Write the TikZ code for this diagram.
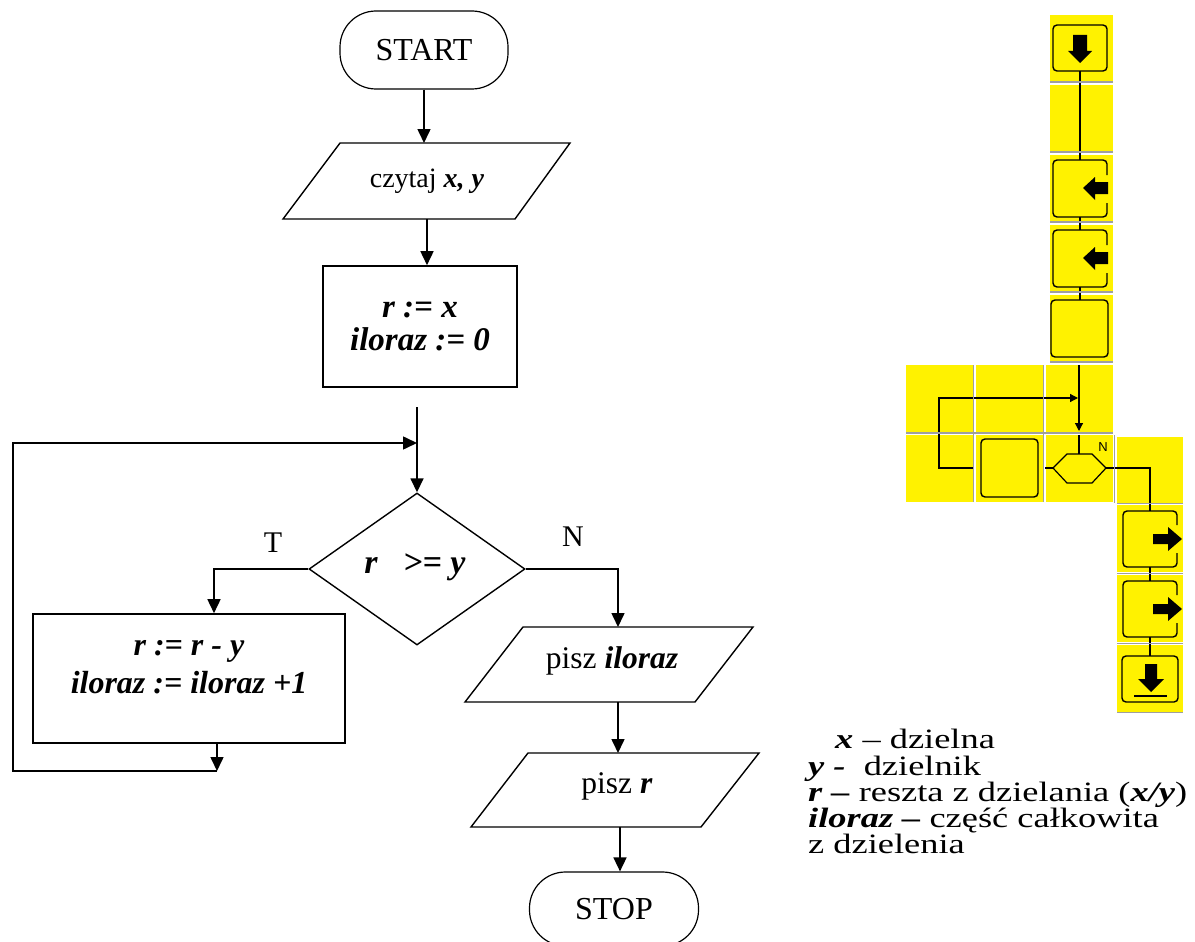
\documentclass[tikz,border=0pt]{standalone}
\usepackage{fontspec}
\setmainfont{Liberation Serif}
\newfontfamily\legendfont[FakeStretch=1.3]{Liberation Serif}
\newfontfamily\cellfont{Liberation Sans}
\usetikzlibrary{arrows.meta,shapes.geometric}
\newcommand\bfit[1]{\textbf{\textit{#1}}}
\newcommand\fsz[1]{\fontsize{#1}{#1}\selectfont}

\tikzset{
  flow/.style={line width=1.6pt},
  arr/.style={flow, -{Triangle[length=14pt,width=13pt]}},
  terminal/.style={draw, line width=1.2pt, rectangle, rounded corners=36pt,
    minimum width=168pt, minimum height=78pt, inner sep=0pt, font=\fsz{32}},
  procbox/.style={draw, flow, rectangle, inner sep=0pt, align=center},
  decision/.style={draw, line width=1.4pt, diamond, inner sep=0pt,
    minimum width=216pt, minimum height=152pt},
  io/.style={draw, line width=1.4pt, line join=miter},
  lbl/.style={font=\fsz{30}, inner sep=0pt},
  cell/.style={fill=yellow},
  sep/.style={draw=gray!75, line width=1.4pt},
  icon/.style={line width=1.4pt, rounded corners=4pt},
  wire/.style={line width=1.2pt},
  smallarr/.style={wire, -{Triangle[length=8pt,width=8pt]}},
  legend/.style={anchor=base west, inner sep=0pt, font=\legendfont\fsz{28}},
}

\begin{document}
\begin{tikzpicture}[x=1pt, y=-1pt]
\useasboundingbox (0,0) rectangle (1195,942);
\clip (0,0) rectangle (1195,942);

% ---------------- flowchart ----------------
\node[terminal] (start) at (424,50) {START};

\coordinate (readin) at (424,143);
\coordinate (readout) at (427,219);
\draw[io] (340,143) -- (570,143) -- (515,219) -- (283,219) -- cycle;
\node[lbl, font=\fsz{28}] (readtxt) at (427,181) {czytaj \bfit{x, y}};
\draw[arr] (start) -- (readin);

\node[procbox, minimum width=194pt, minimum height=121pt,
  font=\bfseries\itshape\fontsize{33}{33}\selectfont] (init) at (420,326.5)
  {r := x\\iloraz := 0};
\draw[arr] (readout) -- (readout |- init.north);

\node[decision] (dec) at (417,569) {};
\node[font=\bfseries\itshape\fsz{34}, inner sep=0pt] (dectxt) at (415,567) {r\ \ \ >= y};

\coordinate (loopstart) at (417,407);
\coordinate (merge) at (417,443);
\draw[flow] (loopstart) -- (merge);
\draw[arr] (merge) -- (dec.north);

% yes branch
\coordinate (tturn) at (214,569);
\node[procbox, minimum width=312pt, minimum height=129pt] (body) at (189,678.5) {};
\node[font=\bfseries\itshape\fontsize{32}{38}\selectfont, align=center, inner sep=0pt]
  (bodytxt) at (189,667) {r := r - y\\iloraz := iloraz +1};
\draw[arr] (dec.west) -- (tturn) -- (tturn |- body.north);
\node[lbl] (tlab) at (273,543) {T};

\coordinate (bend) at (217,771);
\coordinate (lowleft) at (13,771);
\coordinate (upleft) at (13,443);
\draw[arr] (body.south -| bend) -- (bend);
\draw[arr] (bend) -- (lowleft) -- (upleft) -- (merge);

% no branch
\coordinate (nturn) at (618,569);
\coordinate (out1top) at (618,627);
\coordinate (out1bot) at (618,702);
\draw[arr] (dec.east) -- (nturn) -- (out1top);
\node[lbl] (nlab) at (573,537) {N};

\draw[io] (523,627) -- (753,627) -- (695,702) -- (465,702) -- cycle;
\node[lbl, font=\fsz{31.5}] (out1txt) at (612,661) {pisz \bfit{iloraz}};

\coordinate (out2top) at (618,753);
\coordinate (out2bot) at (620,827);
\draw[io] (528,753) -- (759,753) -- (701,827) -- (471,827) -- cycle;
\node[lbl, font=\fsz{31.5}] (out2txt) at (617,786) {pisz \bfit{r}};
\draw[arr] (out1bot) -- (out2top);

\node[terminal, minimum width=169pt, minimum height=74pt] (stop) at (614,909) {STOP};
\draw[arr] (out2bot) -- (out2bot |- stop.north);

% ---------------- editor cells ----------------
\foreach \y in {15,85,155,225,295}
  \fill[cell] (1050,\y) rectangle (1113,\y+67);
\foreach \x in {906,976,1046} {
  \fill[cell] (\x,365) rectangle (\x+67,432);
  \fill[cell] (\x,435) rectangle (\x+67,502);
}
\fill[cell] (1117,437) rectangle (1183,503);
\foreach \y in {505,575,645}
  \fill[cell] (1117,\y) rectangle (1183,\y+67);

% wires
\draw[wire] (1080,71) -- (1080,160);
\draw[wire] (1080,217) -- (1080,230);
\draw[wire] (1080,287) -- (1080,300);
\draw[smallarr] (1079,365) -- (1079,431);
\draw[wire] (1079,435) -- (1079,454);
\draw[smallarr] (973,468) -- (939,468) -- (939,398) -- (1078,398);
\draw[wire] (1045,468) -- (1053,468);
\draw[wire] (1053,468) -- (1067,454) -- (1092,454) -- (1106,468)
  -- (1092,483) -- (1067,483) -- cycle;
\draw[wire] (1106,468) -- (1150,468) -- (1150,511);
\draw[wire] (1150,567) -- (1150,581);
\draw[wire] (1150,637) -- (1150,656);
\node[font=\cellfont\fsz{13}, inner sep=0pt] (ncell) at (1103,447) {N};

% start icon
\draw[icon] (1053,25) rectangle (1107,71);
\fill (1073,35) -- (1087,35) -- (1087,51) -- (1092,51) -- (1080,63)
  -- (1068,51) -- (1073,51) -- cycle;

% input icons
\foreach \dy in {0,70} {
  \begin{scope}[shift={(0,\dy)}]
    \draw[icon] (1107,175) -- (1107,160) -- (1053,160) -- (1053,217)
      -- (1107,217) -- (1107,203);
    \fill (1108,182) -- (1095,182) -- (1095,177) -- (1083,188) -- (1095,200)
      -- (1095,194) -- (1108,194) -- cycle;
  \end{scope}
}

% process icons
\draw[icon] (1051,300) rectangle (1108,357);
\draw[icon] (981,439) rectangle (1038,497);

% output icons
\foreach \dy in {0,70} {
  \begin{scope}[shift={(0,\dy)}]
    \draw[icon] (1177,525) -- (1177,511) -- (1123,511) -- (1123,567)
      -- (1177,567) -- (1177,553);
    \fill (1153,534) -- (1168,534) -- (1168,527) -- (1182,539) -- (1168,551)
      -- (1168,544) -- (1153,544) -- cycle;
  \end{scope}
}

% stop icon
\draw[icon] (1122,656) rectangle (1178,702);
\fill (1145,664) -- (1157,664) -- (1157,679) -- (1164,679) -- (1151,692)
  -- (1138,679) -- (1145,679) -- cycle;
\draw[line width=1.6pt] (1134,696) -- (1167,696);

% separators
\foreach \y in {82,152,222,292,362}
  \draw[sep] (1050,\y) -- (1113,\y);
\draw[sep] (906,433) -- (1113,433);
\draw[sep] (973.5,365) -- (973.5,502);
\draw[sep] (1043.5,365) -- (1043.5,502);
\draw[sep] (1114.5,435) -- (1114.5,503);
\foreach \y in {503.5,573.5,643.5,712.5}
  \draw[sep] (1117,\y) -- (1183,\y);

% ---------------- legend ----------------
\node[legend] (lx) at (835,748) {\bfit{x} – dzielna};
\node[legend] (ly) at (808,775) {\bfit{y -}\ \ dzielnik};
\node[legend] (lr) at (808,801) {\bfit{r –} reszta z dzielania (\bfit{x/y})};
\node[legend] (li) at (808,827) {\bfit{iloraz –} część całkowita};
\node[legend] (lz) at (808,853) {z dzielenia};
\end{tikzpicture}
\end{document}
